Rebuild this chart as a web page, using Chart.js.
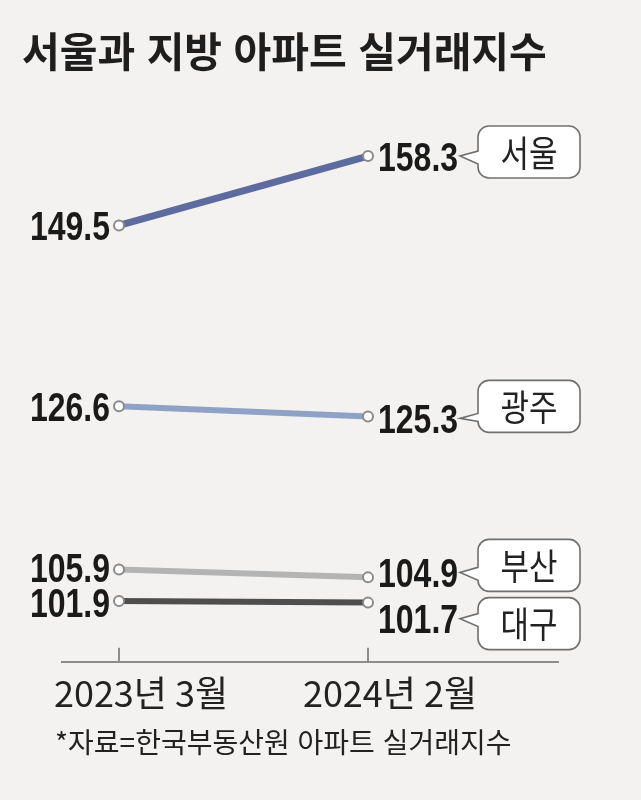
<!DOCTYPE html>
<html lang="ko">
<head>
<meta charset="utf-8">
<title>서울과 지방 아파트 실거래지수</title>
<script src="https://cdn.jsdelivr.net/npm/chart.js@4"></script>
<style>
html, body { margin:0; padding:0; background:#f3f2f0; }
#wrap { position:relative; width:641px; height:800px; overflow:hidden; }
#chart { position:absolute; left:0; top:0; }
.title {
    position:absolute; left:22px; top:29px;
    font:700 41px 'Noto Sans CJK KR', sans-serif; line-height:1;
    color:#1e1e1e; white-space:nowrap;
}
.source {
    position:absolute; left:55px; top:727px;
    font:400 28px 'Noto Sans CJK KR', sans-serif; line-height:1;
    color:#222; white-space:nowrap;
}
</style>
</head>
<body>
<div id="wrap">
    <canvas id="chart" width="641" height="800"></canvas>
    <div class="title">서울과 지방 아파트 실거래지수</div>
    <div class="source">*자료=한국부동산원 아파트 실거래지수</div>
</div>
<script>
// DATA
const periods = ['2023년 3월', '2024년 2월'];
const regions = ['서울', '광주', '부산', '대구'];
const seoul   = [149.5, 158.3];
const gwangju = [126.6, 125.3];
const busan   = [105.9, 104.9];
const daegu   = [101.9, 101.7];

// STYLE (per region)
const lineColors = ['#5d6b9e', '#8fa2c6', '#b4b4b4', '#4e4e4e'];
const lineWidths = [7, 6, 6, 6];
// label nudges in px: [left number, right number, tag box]
const nudges = [[0, 0, -4], [0, 2, -10], [-2, -5, -12], [1, 16, 21]];

const series = [seoul, gwangju, busan, daegu];

// NUMBER / TAG DRAWING
function drawNum(ctx, text, x, y, align){
    ctx.save();
    ctx.translate(x, y);
    ctx.scale(0.8, 1);
    ctx.font = "bold 40px 'Liberation Sans', Arial, sans-serif";
    ctx.fillStyle = '#1a1a1a';
    ctx.textAlign = align;
    ctx.textBaseline = 'alphabetic';
    ctx.fillText(text, 0, 14.5);
    ctx.restore();
}

function drawTag(ctx, text, x, cy, tipY){
    const w = 102, h = 52, r = 11;
    const top = cy - h/2, bot = cy + h/2;
    let n1 = Math.max(top + r, tipY - 5);
    let n2 = Math.min(bot - r, tipY + 8);
    if(n2 < n1 + 6) n2 = n1 + 6;
    ctx.save();
    ctx.beginPath();
    ctx.moveTo(x + r, top);
    ctx.lineTo(x + w - r, top);
    ctx.arcTo(x + w, top, x + w, top + r, r);
    ctx.lineTo(x + w, bot - r);
    ctx.arcTo(x + w, bot, x + w - r, bot, r);
    ctx.lineTo(x + r, bot);
    ctx.arcTo(x, bot, x, bot - r, r);
    ctx.lineTo(x, n2);
    ctx.lineTo(x - 18, tipY);
    ctx.lineTo(x, n1);
    ctx.lineTo(x, top + r);
    ctx.arcTo(x, top, x + r, top, r);
    ctx.closePath();
    ctx.fillStyle = '#ffffff';
    ctx.fill();
    ctx.strokeStyle = '#707070';
    ctx.lineWidth = 1.6;
    ctx.stroke();

    ctx.translate(x + w/2, cy);
    ctx.scale(0.86, 1);
    ctx.font = "400 36px 'Noto Sans CJK KR', sans-serif";
    ctx.fillStyle = '#222';
    ctx.textAlign = 'center';
    ctx.textBaseline = 'middle';
    ctx.fillText(text, 0, 1);
    ctx.restore();
}

const labelPlugin = {
    id: 'labels',
    afterDatasetsDraw(chart){
        const ctx = chart.ctx;
        chart.data.datasets.forEach((ds, i)=>{
            const [l, r] = chart.getDatasetMeta(i).data;
            const n = nudges[i];
            drawNum(ctx, series[i][0].toFixed(1), l.x - 9, l.y + n[0], 'right');
            drawNum(ctx, series[i][1].toFixed(1), r.x + 10, r.y + n[1], 'left');
            drawTag(ctx, regions[i], r.x + 110, r.y + n[2], r.y + n[1]);
        });
    }
};

// short upward tick marks on the time axis
const tickPlugin = {
    id: 'upTicks',
    afterDraw(chart){
        const ctx = chart.ctx, xs = chart.scales.x, bottom = chart.chartArea.bottom;
        ctx.save();
        ctx.strokeStyle = '#8c8c8c';
        ctx.lineWidth = 2;
        periods.forEach((p, i)=>{
            const x = Math.round(xs.getPixelForValue(i));
            ctx.beginPath();
            ctx.moveTo(x, bottom);
            ctx.lineTo(x, bottom - 14);
            ctx.stroke();
        });
        ctx.restore();
    }
};

// CHART
new Chart(document.getElementById('chart'), {
    type: 'line',
    data: {
        datasets: series.map((vals, i)=>({
            label: regions[i],
            data: vals.map((v, j)=>({x: j, y: v})),
            borderColor: lineColors[i],
            borderWidth: lineWidths[i],
            borderCapStyle: 'butt',
            pointRadius: 5,
            pointBackgroundColor: '#ffffff',
            pointBorderColor: '#8a8a8a',
            pointBorderWidth: 2,
            tension: 0
        }))
    },
    options: {
        responsive: false,
        animation: false,
        layout: { padding: { top: 100, left: 62, right: 83, bottom: 83 } },
        plugins: { legend: { display: false }, tooltip: { enabled: false } },
        scales: {
            x: {
                type: 'linear',
                min: -0.229,
                max: 1.763,
                afterBuildTicks: s => { s.ticks = periods.map((p, i)=>({value: i})); },
                grid: { display: false },
                border: { display: true, color: '#8c8c8c', width: 2 },
                ticks: {
                    callback: v => periods[v],
                    font: { family: "'Liberation Sans Narrow', 'Noto Sans CJK KR', sans-serif", size: 36 },
                    color: '#222',
                    padding: 2,
                    labelOffset: 22,
                    maxRotation: 0,
                    autoSkip: false
                }
            },
            y: { display: false, min: 94.2, max: 165.4 }
        }
    },
    plugins: [labelPlugin, tickPlugin]
});
</script>
</body>
</html>
